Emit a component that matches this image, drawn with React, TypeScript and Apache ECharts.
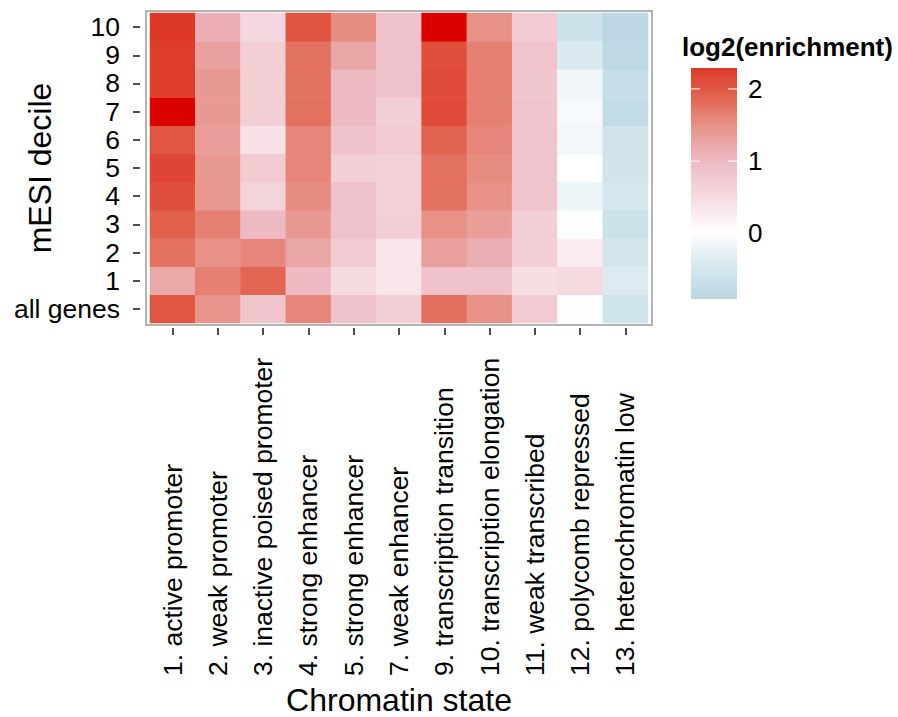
import React, { useEffect, useRef } from 'react';
import * as echarts from 'echarts';

const FONT = '"Liberation Sans", Arial, Helvetica, sans-serif';

const chromatinStates = [
  '1. active promoter',
  '2. weak promoter',
  '3. inactive poised promoter',
  '4. strong enhancer',
  '5. strong enhancer',
  '7. weak enhancer',
  '9. transcription transition',
  '10. transcription elongation',
  '11. weak transcribed',
  '12. polycomb repressed',
  '13. heterochromatin low',
];

// bottom to top
const deciles = ['all genes', '1', '2', '3', '4', '5', '6', '7', '8', '9', '10'];

// log2(enrichment), in the order of deciles (all genes, 1 ... 10)
const activePromoter = [2.02, 1.22, 1.78, 1.92, 2.08, 2.18, 2.02, 2.45, 2.26, 2.26, 2.28];
const weakPromoter = [1.45, 1.65, 1.5, 1.65, 1.42, 1.42, 1.36, 1.4, 1.4, 1.3, 1.15];
const inactivePoisedPromoter = [0.85, 1.88, 1.6, 1.0, 0.6, 0.75, 0.4, 0.7, 0.7, 0.7, 0.55];
const strongEnhancer4 = [1.6, 1.0, 1.25, 1.4, 1.55, 1.6, 1.6, 1.78, 1.78, 1.78, 2.05];
const strongEnhancer5 = [0.9, 0.5, 0.75, 0.9, 0.9, 0.7, 0.9, 1.0, 1.0, 1.25, 1.55];
const weakEnhancer = [0.7, 0.35, 0.35, 0.7, 0.65, 0.65, 0.75, 0.7, 0.9, 0.9, 0.9];
const transcriptionTransition = [1.8, 0.9, 1.32, 1.5, 1.78, 1.78, 1.9, 2.12, 2.12, 2.08, 2.5];
const transcriptionElongation = [1.5, 0.9, 1.15, 1.35, 1.5, 1.55, 1.6, 1.65, 1.65, 1.65, 1.5];
const weakTranscribed = [0.75, 0.45, 0.7, 0.7, 0.85, 0.85, 0.85, 0.85, 0.8, 0.85, 0.75];
const polycombRepressed = [-0.03, 0.5, 0.25, 0.0, -0.17, 0.0, -0.13, -0.08, -0.15, -0.4, -0.6];
const heterochromatinLow = [-0.57, -0.38, -0.52, -0.62, -0.5, -0.55, -0.55, -0.78, -0.72, -0.85, -0.9];

const enrichment = [
  activePromoter,
  weakPromoter,
  inactivePoisedPromoter,
  strongEnhancer4,
  strongEnhancer5,
  weakEnhancer,
  transcriptionTransition,
  transcriptionElongation,
  weakTranscribed,
  polycombRepressed,
  heterochromatinLow,
];

const legendTicks = [2, 1, 0];

// colour scale anchors (value -> rgb)
const colorAnchors: [number, number[]][] = [
  [-0.91, [185, 215, 227]],
  [-0.5, [212, 230, 238]],
  [-0.25, [230, 240, 245]],
  [0, [255, 255, 255]],
  [0.5, [245, 218, 224]],
  [1.0, [237, 186, 196]],
  [1.5, [231, 145, 135]],
  [2.0, [224, 88, 66]],
  [2.29, [222, 58, 42]],
  [2.33, [220, 0, 0]],
  [2.6, [220, 0, 0]],
];

function colorAt(v: number): string {
  let c = colorAnchors[0][1];
  if (v <= colorAnchors[0][0]) c = colorAnchors[0][1];
  else if (v >= colorAnchors[colorAnchors.length - 1][0]) c = colorAnchors[colorAnchors.length - 1][1];
  else {
    for (let i = 0; i < colorAnchors.length - 1; i++) {
      const [v0, c0] = colorAnchors[i];
      const [v1, c1] = colorAnchors[i + 1];
      if (v >= v0 && v <= v1) {
        const t = (v - v0) / (v1 - v0);
        c = c0.map((x, k) => x + (c1[k] - x) * t);
        break;
      }
    }
  }
  return `rgb(${Math.round(c[0])},${Math.round(c[1])},${Math.round(c[2])})`;
}

export default function App() {
  const ref = useRef<HTMLDivElement>(null);

  useEffect(() => {
    if (!ref.current) return;
    const chart = echarts.init(ref.current, null, { renderer: 'svg' });

    const vMin = -0.91;
    const vMax = 2.6;
    const legendTop = 2.29;
    const stops = Array.from({ length: 141 }, (_, i) => colorAt(vMin + ((vMax - vMin) * i) / 140));

    const data: number[][] = [];
    enrichment.forEach((col, x) => col.forEach((v, y) => data.push([x, y, v])));

    const barX = 691;
    const barY = 68;
    const barW = 46;
    const barH = 231;
    const yOf = (v: number) => barY + ((legendTop - v) / (legendTop - vMin)) * barH;
    const gradStops = Array.from({ length: 41 }, (_, i) => {
      const t = i / 40;
      return { offset: t, color: colorAt(legendTop - t * (legendTop - vMin)) };
    });

    const graphics: any[] = [
      {
        type: 'rect',
        z: 10,
        shape: { x: 146, y: 11, width: 506, height: 314 },
        style: { fill: 'none', stroke: '#9a9a9a', lineWidth: 1.5 },
        silent: true,
      },
      {
        type: 'text',
        x: 40,
        y: 168,
        rotation: Math.PI / 2,
        style: { text: 'mESI decile', font: `32px ${FONT}`, fill: '#000', align: 'center', verticalAlign: 'middle' },
      },
      {
        type: 'text',
        x: 399,
        y: 700,
        style: { text: 'Chromatin state', font: `32px ${FONT}`, fill: '#000', align: 'center', verticalAlign: 'middle' },
      },
      {
        type: 'text',
        x: 682,
        y: 47,
        style: { text: 'log2(enrichment)', font: `bold 26px ${FONT}`, fill: '#000', align: 'left', verticalAlign: 'middle' },
      },
      {
        type: 'rect',
        shape: { x: barX, y: barY, width: barW, height: barH },
        style: {
          fill: { type: 'linear', x: 0, y: 0, x2: 0, y2: 1, colorStops: gradStops },
        },
      },
    ];
    legendTicks.forEach((t) => {
      const y = yOf(t);
      graphics.push(
        { type: 'line', shape: { x1: barX, y1: y, x2: barX + 9, y2: y }, style: { stroke: '#fff', lineWidth: 1 } },
        { type: 'line', shape: { x1: barX + barW - 9, y1: y, x2: barX + barW, y2: y }, style: { stroke: '#fff', lineWidth: 1 } },
        {
          type: 'text',
          x: 748,
          y,
          style: { text: String(t), font: `26px ${FONT}`, fill: '#000', align: 'left', verticalAlign: 'middle' },
        }
      );
    });

    chart.setOption({
      animation: false,
      backgroundColor: '#fff',
      grid: { left: 150, top: 13, width: 498, height: 310, containLabel: false },
      xAxis: {
        type: 'category',
        data: chromatinStates,
        offset: 5,
        axisLine: { show: false },
        axisTick: { show: true, alignWithLabel: true, length: 7, lineStyle: { color: '#222', width: 1.6 } },
        splitLine: { show: false },
        axisLabel: {
          interval: 0,
          rotate: 90,
          align: 'left',
          verticalAlign: 'middle',
          margin: 348,
          color: '#000',
          fontSize: 26.5,
          fontFamily: FONT,
        },
      },
      yAxis: {
        type: 'category',
        data: deciles,
        offset: 10,
        axisLine: { show: false },
        axisTick: { show: true, alignWithLabel: true, length: 7, lineStyle: { color: '#222', width: 1.6 } },
        splitLine: { show: false },
        axisLabel: {
          interval: 0,
          margin: 20,
          color: '#000',
          fontSize: 26.5,
          fontFamily: FONT,
        },
      },
      visualMap: {
        show: false,
        type: 'continuous',
        dimension: 2,
        min: vMin,
        max: vMax,
        inRange: { color: stops },
      },
      series: [
        {
          type: 'heatmap',
          data,
          emphasis: { disabled: true },
          itemStyle: { borderWidth: 0 },
        },
      ],
      graphic: graphics,
    });

    return () => chart.dispose();
  }, []);

  return <div ref={ref} style={{ position: 'absolute', left: 0, top: 0, width: 898, height: 717 }} />;
}
